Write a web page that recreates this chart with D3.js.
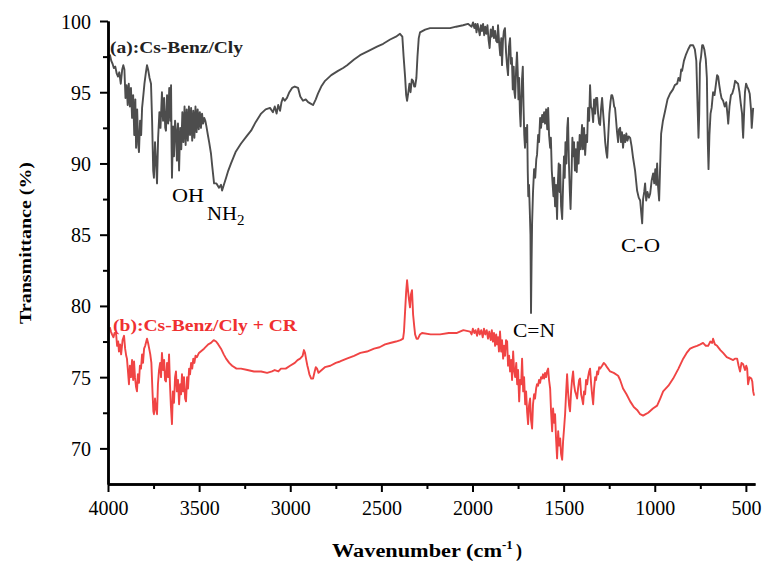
<!DOCTYPE html>
<html><head><meta charset="utf-8">
<script src="https://cdn.jsdelivr.net/npm/d3@7"></script>
<style>
html,body{margin:0;padding:0;background:#fff;}
svg{display:block;}
text{font-family:"Liberation Serif","Times New Roman",serif;}
</style></head>
<body><svg id="c" width="763" height="565"></svg>
<script>
// Series (a): Cs-Benz/Cly  [wavenumber, transmittance]
const specA = [
[3995,97.4],[3989,97.6],[3982,97.2],[3975,97.0],[3968,96.7],[3960,96.8],[3952,96.3],[3945,96.1],[3938,96.4],[3930,95.6],[3922,96.6],[3916,96.9],[3910,96.6],[3904,94.6],[3898,95.5],[3892,94.1],[3886,95.6],[3880,94.0],[3874,95.3],[3868,93.2],[3862,94.8],[3856,92.0],[3850,94.5],[3846,91.1],[3840,93.8],[3834,91.3],[3830,90.8],[3824,93.0],[3818,92.0],[3813,93.9],[3806,94.8],[3800,95.6],[3792,96.4],[3786,96.9],[3780,96.6],[3772,96.0],[3764,95.6],[3758,93.0],[3752,89.5],[3748,89.0],[3742,91.5],[3736,90.0],[3731,88.6],[3725,91.8],[3718,93.6],[3712,92.5],[3704,95.0],[3698,93.0],[3692,94.6],[3686,92.5],[3682,92.3],[3676,94.8],[3670,92.8],[3664,95.3],[3658,93.0],[3654,95.5],[3651,91.0],[3649,89.0],[3643,92.6],[3638,90.5],[3632,93.0],[3627,92.3],[3622,90.2],[3616,92.8],[3610,89.5],[3604,92.5],[3598,91.0],[3592,93.6],[3586,91.5],[3580,94.0],[3574,91.3],[3568,93.8],[3562,91.6],[3556,94.0],[3550,92.0],[3544,93.9],[3538,91.6],[3532,93.7],[3526,91.8],[3520,94.0],[3514,92.2],[3508,93.8],[3502,92.4],[3496,93.6],[3490,92.5],[3484,93.5],[3478,92.8],[3472,93.2],[3466,93.0],[3460,92.6],[3452,92.0],[3445,91.5],[3435,90.7],[3428,89.8],[3418,88.6],
[3405,88.6],[3391,88.3],[3380,88.5],[3374,88.1],[3362,88.6],[3352,89.0],[3340,89.5],[3325,90.0],[3300,90.8],[3270,91.4],[3240,91.9],[3215,92.3],[3190,92.9],[3160,93.5],[3135,93.8],[3111,93.9],[3095,93.6],[3085,94.0],[3075,93.5],[3066,94.1],[3056,93.7],[3048,94.3],[3040,94.6],[3030,94.4],[3018,94.6],[3005,95.0],[2990,95.3],[2975,95.4],[2957,95.3],[2945,94.7],[2930,94.4],[2915,94.5],[2902,94.3],[2888,94.2],[2875,94.1],[2860,94.5],[2848,94.9],[2830,95.4],[2809,95.8],[2775,96.2],[2738,96.5],[2710,96.7],[2688,96.9],[2650,97.3],[2617,97.6],[2570,97.9],[2524,98.2],[2490,98.4],[2452,98.7],[2420,98.9],[2398,99.1],[2385,98.9],[2378,97.5],[2370,96.1],[2364,94.8],[2359,94.4],[2352,95.0],[2346,95.6],[2340,95.0],[2333,95.9],[2326,95.8],[2320,95.4],[2315,95.4],[2308,96.0],[2302,97.5],[2295,98.8],[2288,99.2],[2260,99.4],[2233,99.5],[2180,99.5],[2123,99.5],[2090,99.6],[2052,99.7],[2025,99.8],[2005,99.6],
[1997,99.9],[1990,99.5],[1984,99.8],[1978,99.2],[1972,99.8],[1966,99.4],[1960,99.0],[1954,99.7],[1948,99.3],[1942,99.8],[1936,99.0],[1930,99.6],[1924,99.1],[1918,99.7],[1912,98.7],[1906,98.1],[1900,99.4],[1894,98.9],[1888,99.6],[1882,98.8],[1876,99.3],[1870,98.6],[1864,98.5],[1860,99.7],[1854,98.5],[1848,97.6],[1842,98.8],[1838,96.9],[1833,98.6],[1828,99.3],[1822,99.5],[1816,97.8],[1810,96.8],[1805,96.2],[1800,98.2],[1794,98.8],[1789,97.0],[1784,97.4],[1779,95.2],[1774,96.8],[1770,95.0],[1766,94.6],[1761,96.5],[1756,97.8],[1752,96.5],[1748,94.5],[1744,96.0],[1740,93.6],[1736,92.6],[1732,94.5],[1728,96.0],[1724,96.8],[1720,94.0],[1716,92.0],[1712,91.1],[1708,92.5],[1704,91.5],[1700,92.7],[1697,89.5],[1694,87.7],[1690,88.5],[1686,86.8],[1682,85.0],[1679,79.5],[1676,83.0],[1673,85.8],[1668,88.0],[1662,89.6],[1656,89.0],[1650,90.3],[1646,90.6],[1640,92.0],[1635,91.5],[1629,93.2],[1624,92.5],[1618,93.4],[1613,92.9],[1607,93.6],[1602,92.8],[1596,93.8],[1590,92.4],[1585,93.9],[1580,92.0],[1574,91.1],[1570,91.8],[1565,89.5],[1560,88.5],[1556,87.7],[1552,89.0],[1547,87.0],[1542,88.5],[1536,86.1],[1532,88.5],[1527,90.0],[1522,88.0],[1519,89.9],[1514,87.0],[1508,86.1],[1503,88.5],[1498,90.5],[1494,89.0],[1490,91.5],[1485,90.0],[1480,92.5],[1476,93.2],[1471,90.0],[1466,88.0],[1462,86.8],[1457,89.0],[1452,91.8],[1448,90.5],[1443,91.5],[1438,89.5],[1433,91.0],[1428,89.4],[1423,91.5],[1418,90.0],[1412,92.0],[1406,91.0],[1399,92.7],[1394,91.0],[1388,92.5],[1382,90.6],[1376,92.0],[1371,91.5],[1366,93.9],[1360,93.0],[1355,95.5],[1350,94.0],[1344,93.8],[1338,92.9],[1333,94.5],[1327,93.5],[1322,94.6],[1316,94.6],[1311,93.5],[1305,92.8],[1300,92.7],[1295,93.8],[1289,94.6],[1283,93.5],[1277,92.5],[1272,91.5],[1266,90.8],[1261,90.4],[1255,92.0],[1249,93.5],[1243,94.3],[1238,94.8],[1234,94.8],[1228,94.5],[1223,94.0],[1218,93.9],[1212,93.0],[1207,92.2],[1201,91.5],[1196,92.4],[1190,92.5],[1185,91.5],[1180,92.2],[1174,91.1],[1168,92.0],[1162,91.5],[1156,92.1],[1150,91.6],[1143,91.9],[1135,91.8],[1127,91.2],[1119,90.4],
[1108,89.5],[1097,88.1],[1088,87.6],[1080,87.4],[1074,86.5],[1069,85.8],[1064,87.5],[1058,88.0],[1053,88.6],[1047,87.4],[1040,88.0],[1032,87.6],[1025,87.9],[1017,88.8],[1009,89.3],[1003,88.6],[997,89.6],[992,88.5],[987,90.0],[982,88.4],[976,87.4],[970,90.0],[965,92.1],[955,93.0],[943,93.7],[930,94.5],[916,94.9],[900,95.2],[890,95.5],[877,95.6],[870,96.0],[862,95.8],[855,96.6],[850,96.5],[840,97.2],[830,97.6],[817,98.0],[805,98.3],[790,98.3],[780,98.0],[772,97.2],[765,94.0],[760,91.8],[756,93.5],[752,97.0],[746,97.5],[740,98.3],[735,98.3],[728,98.0],[720,97.3],[714,96.0],[709,91.5],[705,89.6],[700,92.0],[694,93.5],[688,93.9],[680,95.0],[672,94.8],[664,95.6],[658,96.2],[652,96.1],[646,95.5],[640,95.0],[634,94.6],[625,94.4],[616,94.0],[608,94.3],[600,93.3],[597,92.8],[590,94.0],[582,94.8],[575,94.9],[566,95.3],[559,95.8],[552,95.7],[543,95.6],[535,95.0],[528,94.2],[521,93.5],[518,92.5],[515,91.8],[510,93.5],[505,95.0],[499,95.6],[493,95.4],[486,95.2],[479,94.9],[472,93.8],[468,92.5],[465,93.0],[460,93.9]
];

// Series (b): Cs-Benz/Cly + CR  [wavenumber, transmittance]
const specB = [
[3990,78.5],[3984,78.2],[3978,78.0],[3970,77.8],[3964,78.1],[3956,78.1],[3950,77.2],[3944,77.5],[3940,76.8],[3934,77.3],[3928,76.6],[3920,77.6],[3912,77.9],[3906,77.0],[3900,76.5],[3896,76.3],[3891,75.5],[3885,74.5],[3880,75.8],[3874,75.0],[3868,76.2],[3862,74.8],[3857,76.1],[3852,75.0],[3846,74.3],[3841,74.0],[3836,75.2],[3830,74.6],[3825,75.8],[3819,75.6],[3813,76.6],[3808,76.0],[3802,77.0],[3796,77.2],[3790,77.5],[3786,77.7],[3780,77.4],[3774,77.0],[3768,76.6],[3762,76.0],[3756,74.0],[3751,72.6],[3748,72.4],[3742,73.5],[3737,72.8],[3731,72.4],[3726,74.5],[3720,75.5],[3714,76.0],[3709,75.0],[3704,76.7],[3698,75.5],[3692,76.2],[3687,74.8],[3682,74.7],[3676,76.0],[3670,75.0],[3665,76.6],[3660,74.5],[3655,73.0],[3649,71.7],[3644,74.0],[3638,73.2],[3632,75.0],[3627,75.4],[3622,74.0],[3616,74.8],[3610,73.1],[3604,74.5],[3599,73.8],[3594,75.2],[3588,74.0],[3583,75.0],[3577,73.5],[3572,73.3],[3566,75.0],[3561,74.2],[3555,75.6],[3550,75.2],[3544,76.0],[3538,75.6],[3532,76.3],[3526,76.0],[3520,76.5],[3512,76.4],[3501,76.7],
[3473,77.0],[3450,77.3],[3435,77.4],[3420,77.6],[3407,77.5],[3395,77.3],[3380,77.0],[3365,76.6],[3352,76.3],[3335,76.0],[3319,75.8],[3295,75.6],[3270,75.6],[3235,75.5],[3199,75.4],[3160,75.4],[3127,75.3],[3100,75.4],[3085,75.5],[3065,75.4],[3051,75.6],[3025,75.6],[3001,75.8],[2975,76.0],[2960,76.2],[2946,76.3],[2932,76.5],[2925,76.9],[2919,76.7],[2912,76.2],[2906,75.8],[2902,75.6],[2895,75.2],[2885,74.9],[2875,74.9],[2866,75.4],[2860,75.7],[2853,75.6],[2845,75.3],[2837,75.4],[2810,75.7],[2780,75.8],[2750,76.0],[2727,76.1],[2690,76.3],[2650,76.5],[2615,76.7],[2579,76.8],[2540,77.0],[2510,77.1],[2480,77.3],[2452,77.4],[2420,77.5],[2395,77.6],[2381,77.7],[2376,78.2],[2370,79.6],[2364,81.0],[2359,81.8],[2354,81.1],[2349,80.5],[2343,79.9],[2338,80.8],[2332,81.1],[2326,79.4],[2320,78.6],[2315,78.0],[2307,77.7],[2299,77.7],[2288,78.0],[2277,78.1],[2230,78.0],[2178,78.0],[2130,78.1],[2085,78.1],[2050,78.3],
[2013,78.2],[2005,78.0],[1998,78.4],[1990,78.1],[1983,78.3],[1975,77.9],[1968,78.4],[1960,78.0],[1952,78.3],[1944,77.8],[1937,78.4],[1930,78.0],[1922,78.3],[1915,77.7],[1908,78.2],[1900,77.6],[1894,78.3],[1888,77.5],[1882,78.1],[1876,77.2],[1870,78.0],[1865,77.3],[1860,77.8],[1855,76.8],[1849,78.2],[1843,76.8],[1838,77.6],[1832,76.3],[1827,77.2],[1821,76.5],[1816,77.6],[1810,77.5],[1805,75.8],[1799,76.5],[1794,75.4],[1788,76.2],[1783,74.8],[1777,76.8],[1772,75.5],[1766,75.0],[1760,76.0],[1755,74.5],[1750,75.5],[1744,73.3],[1739,74.8],[1733,74.5],[1728,76.3],[1722,74.0],[1717,75.0],[1711,73.1],[1706,74.0],[1700,72.5],[1695,71.7],[1690,73.0],[1684,73.5],[1679,72.0],[1673,71.4],[1668,73.1],[1662,73.8],[1657,73.5],[1651,74.2],[1646,74.5],[1640,74.4],[1635,74.8],[1629,74.6],[1624,75.0],[1618,74.9],[1613,75.2],[1607,74.9],[1602,75.3],[1596,75.0],[1591,75.4],[1585,75.6],[1580,74.8],[1574,74.2],[1569,72.6],[1563,71.2],[1558,72.8],[1552,71.8],[1547,72.4],[1542,70.8],[1536,69.3],[1530,71.2],[1525,70.2],[1519,70.7],[1514,69.6],[1508,69.2],[1503,70.5],[1497,71.5],[1492,72.4],[1486,74.0],[1481,75.2],[1476,74.0],[1470,73.0],[1465,72.6],[1459,74.0],[1454,74.8],[1448,75.4],[1443,74.5],[1437,74.0],[1432,73.8],[1426,73.5],[1421,74.2],[1415,74.8],[1410,74.9],[1404,73.8],[1399,73.5],[1393,73.1],[1388,74.0],[1382,73.8],[1377,74.8],[1371,74.5],[1366,75.0],[1360,75.4],[1355,75.6],[1349,74.5],[1344,73.8],[1338,73.1],[1333,74.2],[1327,75.0],[1322,74.8],[1316,75.4],[1311,75.2],[1305,75.7],[1300,75.6],[1289,75.8],[1280,76.0],[1272,75.9],[1262,75.7],[1245,75.4],
[1225,75.3],[1201,75.1],[1190,74.8],[1174,74.2],[1155,73.8],[1135,73.3],[1115,72.9],[1097,72.7],[1080,72.4],[1064,72.3],[1050,72.4],[1036,72.5],[1010,72.8],[987,73.0],[970,73.5],[954,74.0],[925,74.4],[899,74.9],[870,75.6],[844,76.3],[825,76.7],[806,77.0],[788,77.1],[768,77.2],[750,77.3],[735,77.4],[720,77.2],[707,77.2],[695,77.5],[685,77.4],[680,77.7],[670,77.3],[658,77.2],[640,76.9],[625,76.7],[605,76.4],[587,76.3],[570,76.2],[560,76.3],[548,76.3],[540,75.8],[532,75.4],[524,76.0],[515,75.9],[505,75.5],[498,75.8],[493,75.6],[488,74.5],[480,75.0],[470,74.9],[465,74.7],[460,74.0],[455,73.7]
];

const xMajor = [4000,3500,3000,2500,2000,1500,1000,500];
const xMinor = [3750,3250,2750,2250,1750,1250,750];
const yMajor = [70,75,80,85,90,95,100];
const yMinor = [72.5,77.5,82.5,87.5,92.5,97.5];

const svg = d3.select("#c");
const x = d3.scaleLinear().domain([4000,450]).range([108,755]);
const y = d3.scaleLinear().domain([67.5,100]).range([484,21]);

const line = d3.line().x(d=>x(d[0])).y(d=>y(d[1]));
svg.append("path").datum(specB)
  .attr("d",line).attr("fill","none").attr("stroke","#f04444").attr("stroke-width",1.9).attr("stroke-linejoin","round");
svg.append("path").datum(specA)
  .attr("d",line).attr("fill","none").attr("stroke","#4d4d4d").attr("stroke-width",1.9).attr("stroke-linejoin","round");

// axes
const gx = svg.append("g").attr("transform","translate(0,484)")
  .call(d3.axisBottom(x).tickValues(xMajor).tickSize(8).tickSizeOuter(0).tickFormat(d3.format("d")));
const gxm = svg.append("g").attr("transform","translate(0,484)")
  .call(d3.axisBottom(x).tickValues(xMinor).tickSize(5).tickSizeOuter(0).tickFormat(""));
const gy = svg.append("g").attr("transform","translate(108,0)")
  .call(d3.axisLeft(y).tickValues(yMajor).tickSize(8).tickSizeOuter(0));
const gym = svg.append("g").attr("transform","translate(108,0)")
  .call(d3.axisLeft(y).tickValues(yMinor).tickSize(5).tickSizeOuter(0).tickFormat(""));
[gx,gxm,gy,gym].forEach(g=>{
  g.attr("font-family",null).attr("font-size",null);
  g.selectAll("path.domain").attr("stroke","#000").attr("stroke-width",2.5);
  g.selectAll(".tick line").attr("stroke","#000").attr("stroke-width",2);
  g.selectAll(".tick text").attr("fill","#000")
    .style("font-family","'Liberation Serif', 'Times New Roman', serif").style("font-size","20px");
});
gx.selectAll(".tick text").attr("dy",null).attr("y",31);
gy.selectAll(".tick text").attr("x",-17).attr("dy","0.35em");

// axis titles
svg.append("text").attr("transform","translate(31,243) rotate(-90)").attr("text-anchor","middle")
  .style("font-weight","bold").style("font-size","17px")
  .attr("textLength",162).attr("lengthAdjust","spacingAndGlyphs").text("Transmittance (%)");
const xt = svg.append("text").attr("y",557).style("font-weight","bold").style("font-size","18px");
xt.append("tspan").attr("x",332).attr("textLength",170).attr("lengthAdjust","spacingAndGlyphs").text("Wavenumber (cm");
xt.append("tspan").attr("x",502).attr("dy",-8).style("font-size","13px").text("-1");
xt.append("tspan").attr("x",516).attr("dy",8).text(")");

// annotations
svg.append("text").attr("x",110).attr("y",53).style("font-weight","bold").style("font-size","16px")
  .attr("textLength",133).attr("lengthAdjust","spacingAndGlyphs")
  .attr("fill","#222").text("(a):Cs-Benz/Cly");
svg.append("text").attr("x",113).attr("y",331).style("font-weight","bold").style("font-size","16px")
  .attr("textLength",184).attr("lengthAdjust","spacingAndGlyphs")
  .attr("fill","#f03030").text("(b):Cs-Benz/Cly + CR");
svg.append("text").attr("x",172).attr("y",202).style("font-size","19px")
  .attr("textLength",32).attr("lengthAdjust","spacingAndGlyphs").text("OH");
const nh = svg.append("text").attr("x",207).attr("y",220).style("font-size","19px");
nh.append("tspan").attr("textLength",30).attr("lengthAdjust","spacingAndGlyphs").text("NH");
nh.append("tspan").attr("dy",5).style("font-size","15px").text("2");
svg.append("text").attr("x",621).attr("y",252).style("font-size","19px")
  .attr("textLength",39).attr("lengthAdjust","spacingAndGlyphs").text("C-O");
svg.append("text").attr("x",513).attr("y",337).style("font-size","19px")
  .attr("textLength",42).attr("lengthAdjust","spacingAndGlyphs").text("C=N");
</script></body></html>
